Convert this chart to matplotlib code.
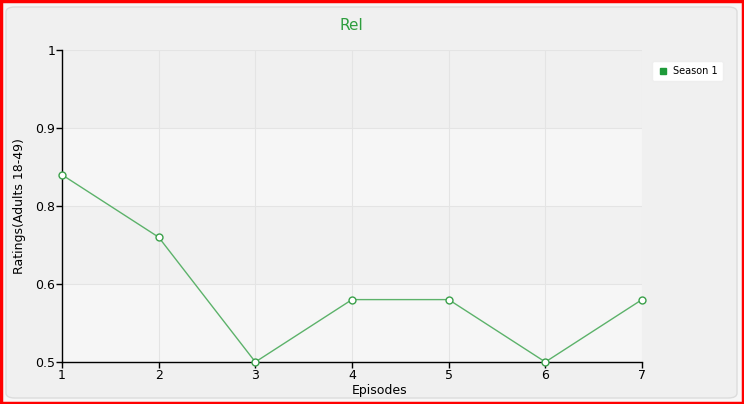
import matplotlib
matplotlib.use("Agg")
import matplotlib.pyplot as plt
from matplotlib.patches import FancyBboxPatch, Rectangle
from matplotlib.lines import Line2D

# data
episodes = [1, 2, 3, 4, 5, 6, 7]
season1 = [0.8, 0.7, 0.5, 0.6, 0.6, 0.5, 0.6]
y_ticks = [0.5, 0.625, 0.75, 0.875, 1.0]
y_tick_labels = ["0.5", "0.6", "0.8", "0.9", "1"]

W, H = 744, 404
fig = plt.figure(figsize=(W / 100, H / 100), dpi=100)
fig.patch.set_facecolor("#f7f7f7")

# red frame + rounded panel (behind the axes)
fig.patches.append(Rectangle((1.2 / W, 1.2 / H), 1 - 2.4 / W, 1 - 2.4 / H,
                             transform=fig.transFigure, fill=False,
                             edgecolor="#ff0000", linewidth=2.5, zorder=-1))
fig.patches.append(FancyBboxPatch((6 / W, 6 / H), 1 - 13 / W, 1 - 13 / H,
                                  boxstyle="round,pad=0,rounding_size=0.012",
                                  transform=fig.transFigure,
                                  facecolor="#f0f0f0", edgecolor="#dcdcdc",
                                  linewidth=1, zorder=-2))

ax = fig.add_axes([62 / W, 1 - 362 / H, 580 / W, 312 / H])
ax.set_facecolor("none")

# alternating bands
band_cols = ["#f6f6f6", "#f1f1f1", "#f6f6f6", "#f0f0f0"]
for i in range(len(y_ticks) - 1):
    ax.axhspan(y_ticks[i], y_ticks[i + 1], color=band_cols[i], zorder=0, lw=0)

for y in y_ticks[1:]:
    ax.axhline(y, color="#e4e4e4", lw=0.8, zorder=1)
for x in episodes[1:]:
    ax.axvline(x, color="#e4e4e4", lw=0.8, zorder=1)

ax.plot(episodes, season1, color="#5cb26a", lw=1, marker="o", ms=5,
        markerfacecolor="white", markeredgecolor="#3aa04a", mew=1, zorder=3,
        clip_on=False)

ax.set_xlim(1, 7)
ax.set_ylim(0.5, 1.0)
ax.set_xticks(episodes)
ax.set_yticks(y_ticks)
ax.set_yticklabels(y_tick_labels)
ax.tick_params(labelsize=9, length=4, width=1, color="black", pad=1)
for s in ["top", "right"]:
    ax.spines[s].set_visible(False)
for s in ["left", "bottom"]:
    ax.spines[s].set_color("black")
    ax.spines[s].set_linewidth(1)

ax.set_ylabel("Ratings(Adults 18-49)", fontsize=9)
ax.yaxis.set_label_coords(-0.062, 0.5)
ax.set_xlabel("Episodes", fontsize=9)
ax.xaxis.set_label_coords(0.548, -0.07)

fig.text(351 / W, 1 - 25 / H, "Rel", color="#2e9e3e", fontsize=11,
         ha="center", va="center")

handle = Line2D([], [], marker="s", ls="none", color="#1e9a3a", ms=4)
leg = fig.legend([handle], ["Season 1"], loc="center left",
                 bbox_to_anchor=(652 / W, 1 - 71 / H), fontsize=7,
                 frameon=True, fancybox=True, handlelength=1.2,
                 handletextpad=0.5, borderpad=0.5, borderaxespad=0,
                 framealpha=1)
leg.get_frame().set_facecolor("white")
leg.get_frame().set_edgecolor("#eeeeee")

fig.savefig("out.png", dpi=100, facecolor=fig.get_facecolor())
